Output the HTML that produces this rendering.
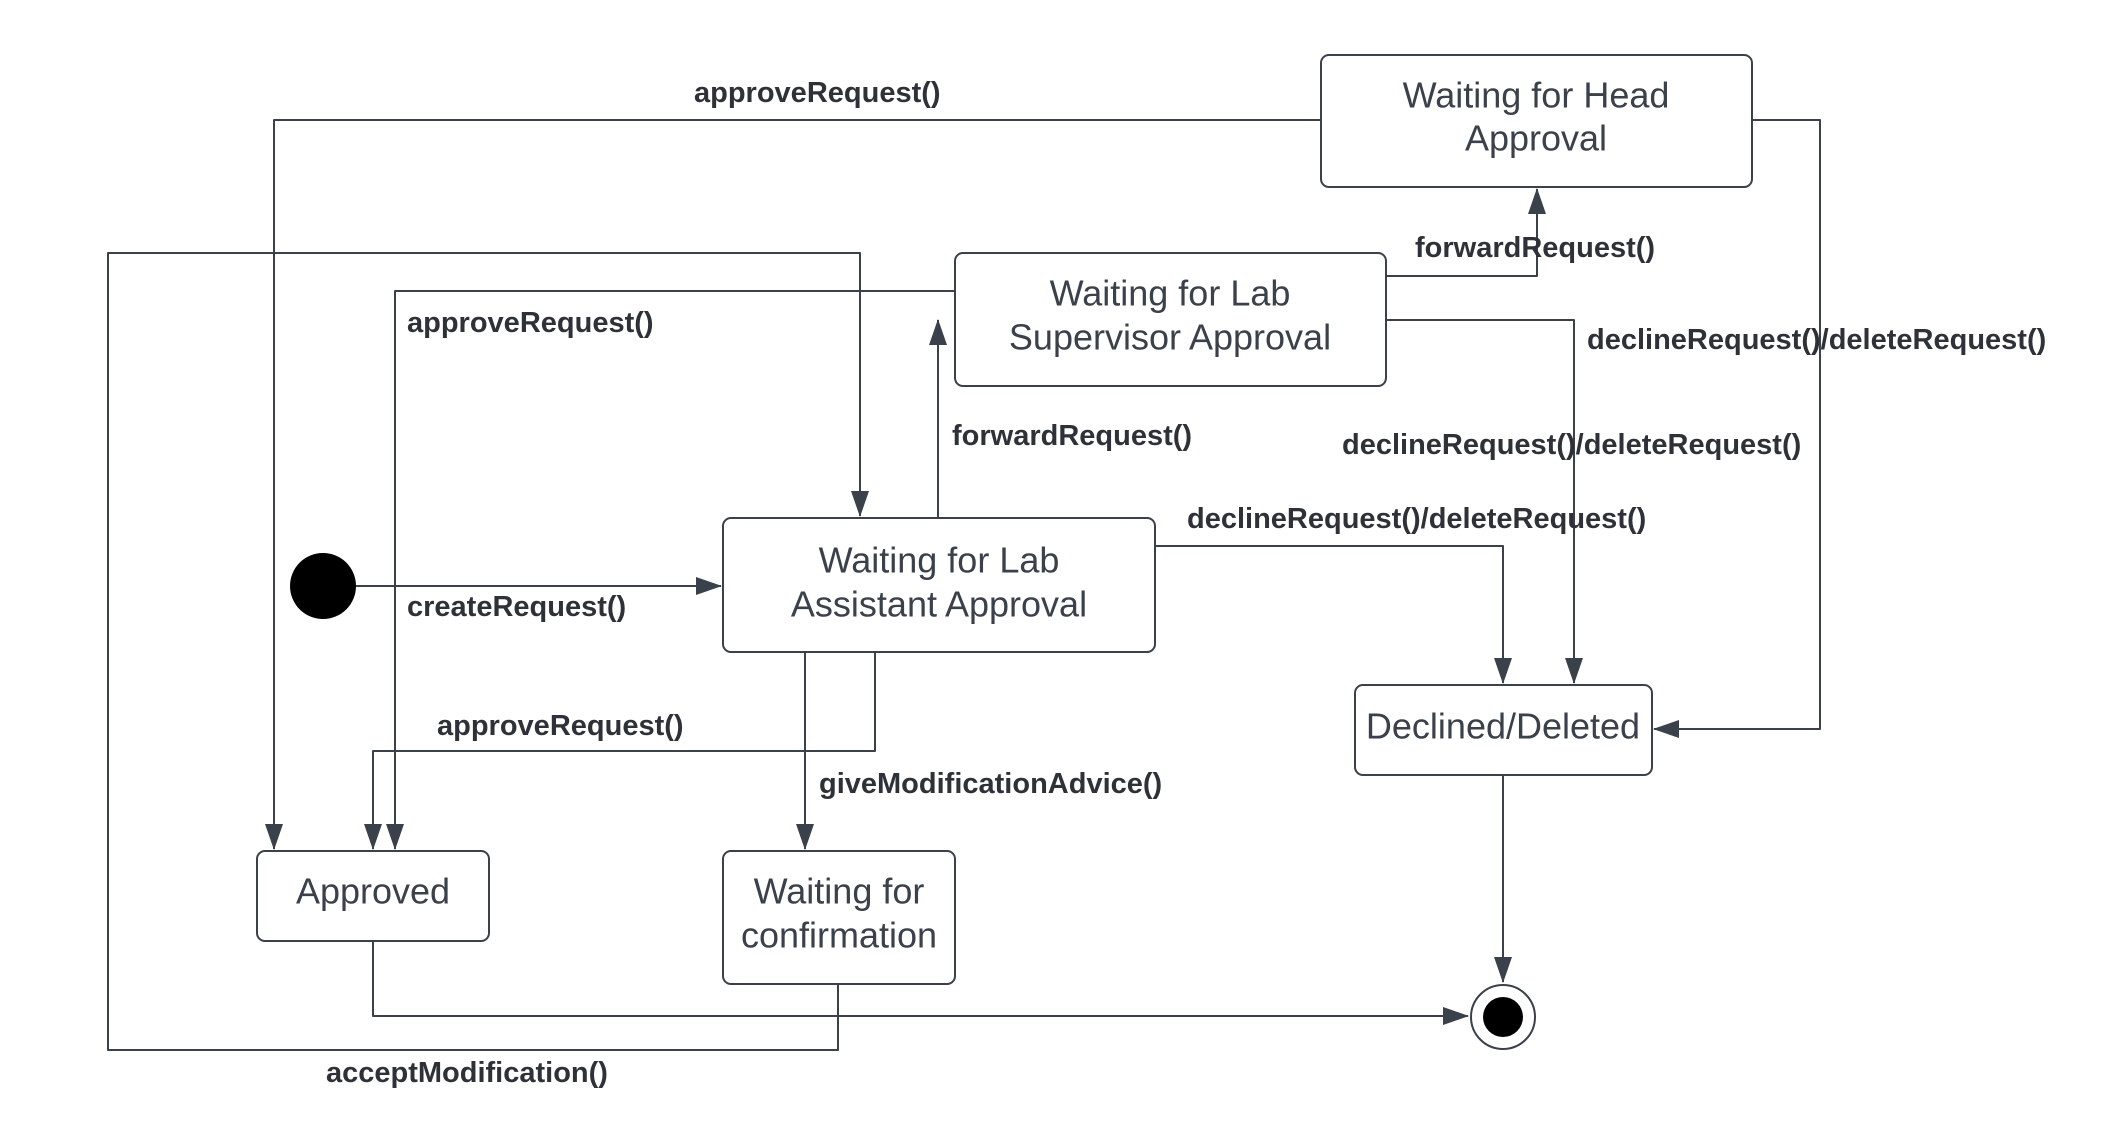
<!DOCTYPE html>
<html><head><meta charset="utf-8"><style>
html,body{margin:0;padding:0;background:#fff;}
svg{display:block;}
.b{fill:#fff;stroke:#3a414a;stroke-width:2;}
.l{fill:none;stroke:#3a414a;stroke-width:2;stroke-linejoin:round;}
.t{font-family:"Liberation Sans",sans-serif;font-size:36px;fill:#3a414a;text-anchor:middle;dominant-baseline:central;}
.k{font-family:"Liberation Sans",sans-serif;font-size:29px;font-weight:bold;fill:#2e3238;dominant-baseline:central;}
</style></head><body>
<svg width="2108" height="1142" viewBox="0 0 2108 1142">
<defs>
<marker id="A" markerWidth="26" markerHeight="18" refX="25" refY="9" orient="auto" markerUnits="userSpaceOnUse"><path d="M0,0 L26,9 L0,18 z" fill="#3a414a"/></marker></defs>

<path class="l" d="M1321,120 H274 V849" marker-end="url(#A)"/>
<path class="l" d="M838,984 V1050 H108 V253 H860 V516" marker-end="url(#A)"/>
<path class="l" d="M955,291 H395 V849" marker-end="url(#A)"/>
<path class="l" d="M938,518 V320" marker-end="url(#A)"/>
<path class="l" d="M356,586 H721" marker-end="url(#A)"/>
<path class="l" d="M805,652 V751 H373 V849" marker-end="url(#A)"/>
<path class="l" d="M875,652 V751 H805 V849" marker-end="url(#A)"/>
<path class="l" d="M373,941 V1016 H1468" marker-end="url(#A)"/>
<path class="l" d="M1386,276 H1537 V189" marker-end="url(#A)"/>
<path class="l" d="M1386,320 H1574 V683" marker-end="url(#A)"/>
<path class="l" d="M1155,546 H1503 V683" marker-end="url(#A)"/>
<path class="l" d="M1752,120 H1820 V729 H1654" marker-end="url(#A)"/>
<path class="l" d="M1503,775 V982" marker-end="url(#A)"/>

<rect class="b" x="1321" y="55" width="431" height="132" rx="8"/>
<text class="t" x="1536" y="95">Waiting for Head</text>
<text class="t" x="1536" y="138">Approval</text>
<rect class="b" x="955" y="253" width="431" height="133" rx="8"/>
<text class="t" x="1170" y="293">Waiting for Lab</text>
<text class="t" x="1170" y="337">Supervisor Approval</text>
<rect class="b" x="723" y="518" width="432" height="134" rx="8"/>
<text class="t" x="939" y="560">Waiting for Lab</text>
<text class="t" x="939" y="604">Assistant Approval</text>
<rect class="b" x="257" y="851" width="232" height="90" rx="8"/>
<text class="t" x="373" y="891">Approved</text>
<rect class="b" x="723" y="851" width="232" height="133" rx="8"/>
<text class="t" x="839" y="891">Waiting for</text>
<text class="t" x="839" y="935">confirmation</text>
<rect class="b" x="1355" y="685" width="297" height="90" rx="8"/>
<text class="t" x="1503" y="726">Declined/Deleted</text>

<circle cx="323" cy="586" r="33" fill="#000"/>
<circle cx="1503" cy="1017" r="32" fill="#fff" stroke="#3a414a" stroke-width="2"/>
<circle cx="1503" cy="1017" r="20" fill="#000"/>

<text class="k" x="694" y="93">approveRequest()</text>
<text class="k" x="407" y="323">approveRequest()</text>
<text class="k" x="952" y="436">forwardRequest()</text>
<text class="k" x="1415" y="248">forwardRequest()</text>
<text class="k" x="1587" y="340">declineRequest()/deleteRequest()</text>
<text class="k" x="1342" y="445">declineRequest()/deleteRequest()</text>
<text class="k" x="1187" y="519">declineRequest()/deleteRequest()</text>
<text class="k" x="407" y="607">createRequest()</text>
<text class="k" x="437" y="726">approveRequest()</text>
<text class="k" x="819" y="784">giveModificationAdvice()</text>
<text class="k" x="326" y="1073">acceptModification()</text>
</svg>
</body></html>
